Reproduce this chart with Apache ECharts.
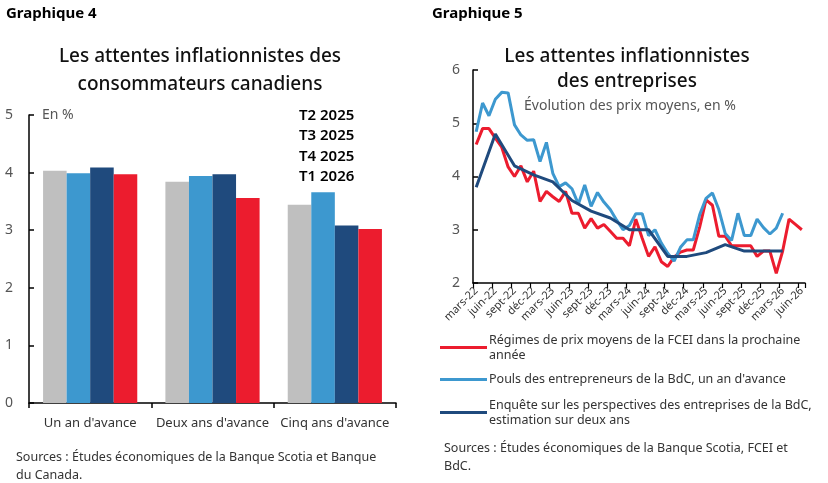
<!DOCTYPE html>
<html>
<head>
<meta charset="utf-8">
<script src="https://cdn.jsdelivr.net/npm/echarts@6/dist/echarts.min.js"></script>
<style>
  html, body { margin: 0; padding: 0; background: #fff; }
  #chart { width: 828px; height: 483px; }
</style>
</head>
<body>
<div id="chart"></div>
<script>
// --- Graphique 4 : attentes des consommateurs ---
const horizons = ["Un an d'avance", "Deux ans d'avance", "Cinq ans d'avance"];
const t2_2025 = [4.03, 3.84, 3.44];
const t3_2025 = [3.99, 3.94, 3.66];
const t4_2025 = [4.09, 3.97, 3.08];
const t1_2026 = [3.97, 3.56, 3.02];

// --- Graphique 5 : attentes des entreprises (mensuel, mars-22 a juin-26) ---
const monthNames = ["janv", "févr", "mars", "avr", "mai", "juin", "juil", "août", "sept", "oct", "nov", "déc"];
const months = [];
for (let k = 0; k < 52; k++) {
  const m = (2 + k) % 12;
  const y = 22 + Math.floor((2 + k) / 12);
  months.push(monthNames[m] + "-" + y);
}

// FCEI - regimes de prix moyens dans la prochaine annee
const fcei = [4.6, 4.9, 4.9, 4.72, 4.55, 4.18, 4.0, 4.2, 3.9, 4.1,
  3.53, 3.72, 3.62, 3.53, 3.72, 3.31, 3.31, 3.03, 3.21, 3.03,
  3.1, 2.97, 2.84, 2.84, 2.7, 3.2, 2.84, 2.5, 2.68, 2.4,
  2.31, 2.49, 2.58, 2.62, 2.62, 3.05, 3.56, 3.46, 2.88, 2.88,
  2.7, 2.7, 2.7, 2.7, 2.5, 2.6, 2.6, 2.18, 2.6, 3.2,
  3.1, 3.0];

// Pouls des entrepreneurs de la BdC, un an d'avance
const pouls = [4.84, 5.38, 5.14, 5.45, 5.58, 5.57, 4.97, 4.78, 4.68, 4.69,
  4.28, 4.64, 4.06, 3.81, 3.88, 3.77, 3.48, 3.84, 3.44, 3.7,
  3.52, 3.38, 3.18, 3.0, 3.08, 3.3, 3.3, 2.89, 3.0, 2.75,
  2.56, 2.41, 2.67, 2.81, 2.81, 3.28, 3.59, 3.69, 3.38, 2.93,
  2.8, 3.31, 2.89, 2.89, 3.2, 3.04, 2.92, 3.03, 3.31];

// Enquete sur les perspectives des entreprises (trimestriel: mars-22, juin-22, ...)
const bos = [3.8, 4.8, 4.2, 4.03, 3.9, 3.55, 3.35, 3.22, 3.0, 3.0, 2.5, 2.5, 2.57, 2.72, 2.6, 2.6, 2.6];

const bosMonthly = months.map((m, i) => (i % 3 === 0 && bos[i / 3] !== undefined) ? bos[i / 3] : null);

const FONT = "'Noto Sans', 'Open Sans', sans-serif";
const RED = "#ec1c2e", LIGHT = "#3d98cf", DARK = "#1f4a7d", GREY = "#bfbfbf";
const rName = "Régimes de prix moyens de la FCEI dans la prochaine\nannée";
const pName = "Pouls des entrepreneurs de la BdC, un an d'avance";
const bName = "Enquête sur les perspectives des entreprises de la BdC,\nestimation sur deux ans";

const chart = echarts.init(document.getElementById("chart"));
chart.setOption({
  animation: false,
  textStyle: { fontFamily: FONT },
  title: [
    { text: "Graphique 4", left: 6, top: 6, padding: 0,
      textStyle: { fontSize: 15, fontWeight: "bold", color: "#000", fontFamily: FONT } },
    { text: "Graphique 5", left: 432, top: 6, padding: 0,
      textStyle: { fontSize: 15, fontWeight: "bold", color: "#000", fontFamily: FONT } },
    { text: "Les attentes inflationnistes des\nconsommateurs canadiens", left: 200, top: 43, padding: 0,
      textAlign: "center",
      textStyle: { fontSize: 19, fontWeight: 500, lineHeight: 28, color: "#111", fontFamily: FONT } },
    { text: "Les attentes inflationnistes\ndes entreprises", left: 627, top: 44, padding: 0,
      textAlign: "center",
      textStyle: { fontSize: 19, fontWeight: 500, lineHeight: 25, color: "#111", fontFamily: FONT } },
    { text: "Évolution des prix moyens, en %", left: 630, top: 99, padding: 0,
      textAlign: "center",
      textStyle: { fontSize: 14, fontWeight: "normal", color: "#555", fontFamily: FONT } },
    { text: "Sources : Études économiques de la Banque Scotia et Banque\ndu Canada.", left: 16, top: 448, padding: 0,
      textStyle: { fontSize: 12.5, fontWeight: "normal", lineHeight: 18, color: "#333", fontFamily: FONT } },
    { text: "Sources : Études économiques de la Banque Scotia, FCEI et\nBdC.", left: 444, top: 439, padding: 0,
      textStyle: { fontSize: 12.5, fontWeight: "normal", lineHeight: 18, color: "#333", fontFamily: FONT } }
  ],
  legend: [
    {
      data: ["T2 2025", "T3 2025", "T4 2025", "T1 2026"],
      orient: "vertical", left: 288, top: 100, itemGap: 0,
      itemWidth: 1, itemHeight: 1, itemStyle: { opacity: 0 },
      selectedMode: false,
      textStyle: { fontSize: 15, fontWeight: 600, color: "#000", lineHeight: 20.5, fontFamily: FONT }
    },
    {
      data: [rName], left: 440, top: 325, icon: "rect", itemWidth: 47, itemHeight: 3,
      selectedMode: false, padding: 0,
      textStyle: { fontSize: 12.5, color: "#333", lineHeight: 15, padding: [15, 0, 0, -3], fontFamily: FONT }
    },
    {
      data: [pName], left: 440, top: 372, icon: "rect", itemWidth: 47, itemHeight: 3,
      selectedMode: false, padding: 0,
      textStyle: { fontSize: 12.5, color: "#333", lineHeight: 15, padding: [0, 0, 0, -3], fontFamily: FONT }
    },
    {
      data: [bName], left: 440, top: 390, icon: "rect", itemWidth: 47, itemHeight: 3,
      selectedMode: false, padding: 0,
      textStyle: { fontSize: 12.5, color: "#333", lineHeight: 15, padding: [15, 0, 0, -3], fontFamily: FONT }
    }
  ],
  grid: [
    { left: 29, top: 115, width: 367, height: 288 },
    { left: 473, top: 70, width: 332, height: 213 }
  ],
  xAxis: [
    {
      gridIndex: 0, type: "category", data: horizons,
      axisLine: { lineStyle: { color: "#000", width: 1.5 } },
      axisTick: { show: true, length: 5, lineStyle: { color: "#000", width: 1.5 } },
      axisLabel: { interval: 0, fontSize: 13, color: "#333", margin: 14 }
    },
    {
      gridIndex: 1, type: "category", data: months, boundaryGap: true,
      axisLine: { lineStyle: { color: "#000", width: 1.5 } },
      axisTick: { show: true, interval: 2, length: 5, lineStyle: { color: "#000", width: 1.2 } },
      axisLabel: { interval: 2, rotate: 45, fontSize: 11, color: "#333", margin: 6 }
    }
  ],
  yAxis: [
    {
      gridIndex: 0, type: "value", min: 0, max: 5, interval: 1,
      name: "En %", nameLocation: "end", nameGap: 0,
      nameTextStyle: { align: "left", verticalAlign: "middle", fontSize: 14, color: "#555", padding: [0, 0, 0, 13] },
      axisLine: { show: true, lineStyle: { color: "#000", width: 1.5 } },
      axisTick: { show: true, inside: true, length: 5, lineStyle: { color: "#000", width: 1.5 } },
      splitLine: { show: false },
      axisLabel: { fontSize: 14, color: "#555", margin: 16 }
    },
    {
      gridIndex: 1, type: "value", min: 2, max: 6, interval: 1,
      axisLine: { show: true, lineStyle: { color: "#000", width: 1.5 } },
      axisTick: { show: true, inside: true, length: 5, lineStyle: { color: "#000", width: 1.5 } },
      splitLine: { show: false },
      axisLabel: { fontSize: 14, color: "#555", margin: 13 }
    }
  ],
  series: [
    { name: "T2 2025", type: "bar", xAxisIndex: 0, yAxisIndex: 0, data: t2_2025,
      barGap: 0, barCategoryGap: "23%", itemStyle: { color: GREY } },
    { name: "T3 2025", type: "bar", xAxisIndex: 0, yAxisIndex: 0, data: t3_2025,
      itemStyle: { color: LIGHT } },
    { name: "T4 2025", type: "bar", xAxisIndex: 0, yAxisIndex: 0, data: t4_2025,
      itemStyle: { color: DARK } },
    { name: "T1 2026", type: "bar", xAxisIndex: 0, yAxisIndex: 0, data: t1_2026,
      itemStyle: { color: RED } },
    { name: rName, type: "line", xAxisIndex: 1, yAxisIndex: 1, data: fcei,
      showSymbol: false, lineStyle: { color: RED, width: 3 }, itemStyle: { color: RED } },
    { name: pName, type: "line", xAxisIndex: 1, yAxisIndex: 1, data: pouls,
      showSymbol: false, lineStyle: { color: LIGHT, width: 3 }, itemStyle: { color: LIGHT } },
    { name: bName, type: "line", xAxisIndex: 1, yAxisIndex: 1, data: bosMonthly, connectNulls: true,
      showSymbol: false, lineStyle: { color: DARK, width: 3 }, itemStyle: { color: DARK } }
  ]
});
</script>
</body>
</html>
